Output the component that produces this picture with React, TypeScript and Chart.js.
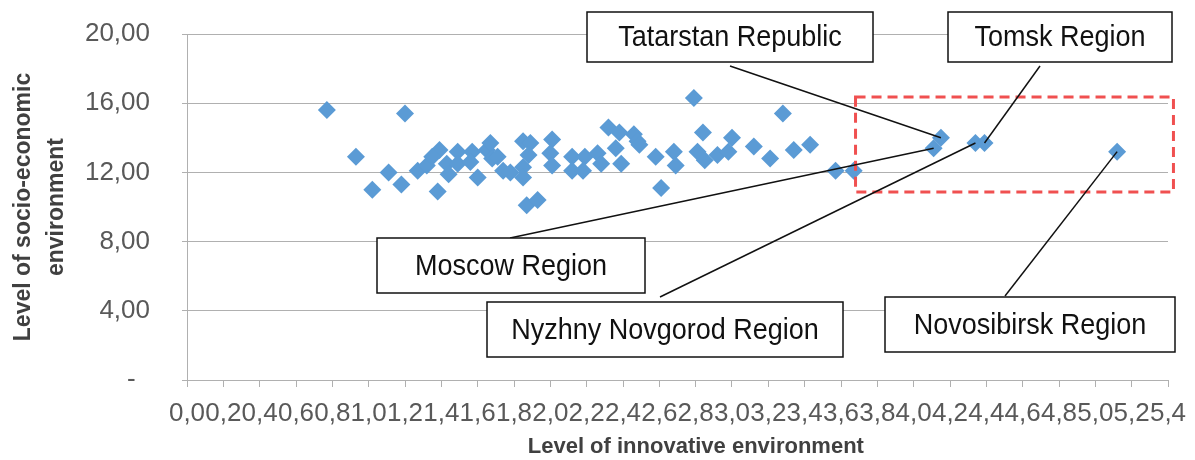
import React, { useEffect, useRef } from 'react';
import { Chart, registerables } from 'chart.js';

Chart.register(...registerables);

// ---- Data ----
const innovationLevel: number[] = [
  0.77, 0.93, 1.02, 1.11, 1.18, 1.2, 1.27, 1.32, 1.38, 1.39, 1.35, 1.43, 1.44, 1.49, 1.49,
  1.57, 1.56, 1.6, 1.65, 1.67, 1.68, 1.71, 1.74, 1.78, 1.85, 1.89, 1.88, 1.85, 1.85, 1.87,
  1.93, 2.01, 2.0, 2.01, 2.12, 2.12, 2.19, 2.18, 2.26, 2.28, 2.32, 2.38, 2.36, 2.39, 2.46,
  2.48, 2.49, 2.58, 2.61, 2.68, 2.69, 2.79, 2.84, 2.81, 2.85, 2.92, 2.98, 3.0, 3.12, 3.21,
  3.28, 3.34, 3.43, 3.57, 3.67,
  4.11, 4.15, 4.34, 4.39, 5.12,
];
const socioEconomicLevel: number[] = [
  15.6, 12.9, 11.0, 12.0, 11.3, 15.4, 12.1, 12.4, 10.9, 13.3, 12.9, 12.5, 11.9, 13.2, 12.5,
  13.2, 12.6, 11.7, 13.3, 13.7, 12.8, 12.9, 12.1, 12.0, 13.8, 13.7, 13.0, 12.3, 11.7, 10.1,
  10.4, 13.9, 13.1, 12.4, 12.9, 12.1, 12.9, 12.1, 13.1, 12.5, 14.6, 14.3, 13.4, 12.5, 14.2,
  13.8, 13.6, 12.9, 11.1, 13.2, 12.4, 16.3, 14.3, 13.2, 12.7, 13.0, 13.2, 14.0, 13.5, 12.8,
  15.4, 13.3, 13.6, 12.1, 12.1,
  13.4, 14.0, 13.7, 13.7, 13.2,
];
const xTickValues: number[] = [
  0, 0.2, 0.4, 0.6, 0.8, 1.0, 1.2, 1.4, 1.6, 1.8, 2.0, 2.2, 2.4, 2.6,
  2.8, 3.0, 3.2, 3.4, 3.6, 3.8, 4.0, 4.2, 4.4, 4.6, 4.8, 5.0, 5.2, 5.4,
];
const yTickValues: number[] = [0, 4, 8, 12, 16, 20];
const calloutNames: string[] = [
  'Tatarstan Republic',
  'Tomsk Region',
  'Moscow Region',
  'Nyzhny Novgorod Region',
  'Novosibirsk Region',
];
const calloutPointIndex: number[] = [66, 68, 65, 67, 69];
const xAxisTitle = '      Level of innovative environment';
const yAxisTitle = ['Level of socio-economic', 'environment'];

// ---- Styling / layout of annotations (pixels) ----
const calloutLayout = [
  { box: [587, 12, 286, 50], from: [730, 66] },
  { box: [948, 12, 224, 50], from: [1040, 66] },
  { box: [377, 238, 268, 55], from: [510, 238] },
  { box: [487, 302, 356, 55], from: [660, 297] },
  { box: [885, 297, 290, 55], from: [1005, 296] },
];
const highlightRegion = { xMin: 3.68, xMax: 5.43, yMin: 10.87, yMax: 16.36 };

const FONT = '"Liberation Sans", Arial, sans-serif';
const MARKER = '#5B9BD5';
const GRID = '#B0B0B0';

const annotationPlugin = {
  id: 'calloutAnnotations',
  afterDraw(chart: any) {
    const { ctx } = chart;
    const xs = chart.scales.x;
    const ys = chart.scales.y;
    ctx.save();
    // red dashed highlight rectangle
    const rx1 = xs.getPixelForValue(highlightRegion.xMin);
    const rx2 = xs.getPixelForValue(highlightRegion.xMax);
    const ry1 = ys.getPixelForValue(highlightRegion.yMax);
    const ry2 = ys.getPixelForValue(highlightRegion.yMin);
    ctx.strokeStyle = '#F05050';
    ctx.lineWidth = 3;
    ctx.setLineDash([10, 6]);
    ctx.strokeRect(rx1, ry1, rx2 - rx1, ry2 - ry1);
    ctx.setLineDash([]);

    calloutNames.forEach((name, i) => {
      const lay = calloutLayout[i];
      const idx = calloutPointIndex[i];
      const px = xs.getPixelForValue(innovationLevel[idx]);
      const py = ys.getPixelForValue(socioEconomicLevel[idx]);
      // leader line
      ctx.strokeStyle = '#111';
      ctx.lineWidth = 1.5;
      ctx.beginPath();
      ctx.moveTo(lay.from[0], lay.from[1]);
      ctx.lineTo(px, py);
      ctx.stroke();
      // box
      const [bx, by, bw, bh] = lay.box;
      ctx.fillStyle = '#fff';
      ctx.fillRect(bx, by, bw, bh);
      ctx.strokeStyle = '#111';
      ctx.lineWidth = 1.5;
      ctx.strokeRect(bx, by, bw, bh);
      // text
      ctx.save();
      ctx.font = `30px ${FONT}`;
      ctx.fillStyle = '#111';
      ctx.textAlign = 'center';
      ctx.textBaseline = 'middle';
      ctx.translate(bx + bw / 2, by + bh / 2 + 1);
      ctx.scale(0.9, 1);
      ctx.fillText(name, 0, 0);
      ctx.restore();
    });
    ctx.restore();
  },
};

export default function App() {
  const canvasRef = useRef<HTMLCanvasElement | null>(null);

  useEffect(() => {
    const canvas = canvasRef.current;
    if (!canvas) return;
    Chart.defaults.font.family = FONT;
    const points = innovationLevel.map((x, i) => ({ x, y: socioEconomicLevel[i] }));
    const chart = new Chart(canvas, {
      type: 'scatter',
      data: {
        datasets: [
          {
            data: points,
            pointStyle: 'rectRot',
            pointRadius: 9,
            pointBackgroundColor: MARKER,
            pointBorderColor: MARKER,
            pointBorderWidth: 0,
          },
        ],
      },
      options: {
        responsive: false,
        animation: false,
        devicePixelRatio: 1,
        layout: { padding: { left: 0, top: 34, right: 27, bottom: 0 } },
        plugins: { legend: { display: false }, tooltip: { enabled: false } },
        scales: {
          x: {
            type: 'linear',
            min: 0,
            max: 5.4,
            afterBuildTicks: (scale: any) => {
              scale.ticks = xTickValues.map((v) => ({ value: v }));
            },
            afterFit: (scale: any) => {
              scale.height = 80;
              scale.paddingLeft = 0;
              scale.paddingRight = 0;
            },
            ticks: {
              autoSkip: false,
              maxRotation: 0,
              minRotation: 0,
              padding: 11,
              color: '#595959',
              font: { size: 26 },
              callback: (v: any) => Number(v).toFixed(1).replace('.', ','),
            },
            grid: { drawOnChartArea: false, drawTicks: true, tickLength: 7, color: GRID },
            border: { display: true, color: GRID, width: 1 },
            title: {
              display: true,
              text: xAxisTitle,
              color: '#404040',
              font: { size: 22, weight: 'bold' },
              padding: { top: 0, bottom: 0 },
            },
          },
          y: {
            type: 'linear',
            min: 0,
            max: 20,
            afterBuildTicks: (scale: any) => {
              scale.ticks = yTickValues.map((v) => ({ value: v }));
            },
            afterFit: (scale: any) => {
              scale.width = 187;
              scale.paddingTop = 0;
              scale.paddingBottom = 0;
            },
            ticks: {
              padding: 32,
              color: '#595959',
              font: { size: 26 },
              callback: (v: any) => (Number(v) === 0 ? '-  ' : Number(v).toFixed(2).replace('.', ',')),
            },
            grid: { drawTicks: true, tickLength: 5, color: GRID, lineWidth: 1 },
            border: { display: true, color: GRID, width: 1 },
            title: {
              display: true,
              text: yAxisTitle,
              color: '#404040',
              font: { size: 23, weight: 'bold', lineHeight: '33px' },
              padding: { top: 7, bottom: 0 },
            },
          },
        },
      },
      plugins: [annotationPlugin],
    } as any);
    return () => chart.destroy();
  }, []);

  return (
    <div style={{ position: 'fixed', left: 0, top: 0, width: 1195, height: 460, background: '#fff' }}>
      <canvas ref={canvasRef} width={1195} height={460} style={{ display: 'block' }} />
    </div>
  );
}
